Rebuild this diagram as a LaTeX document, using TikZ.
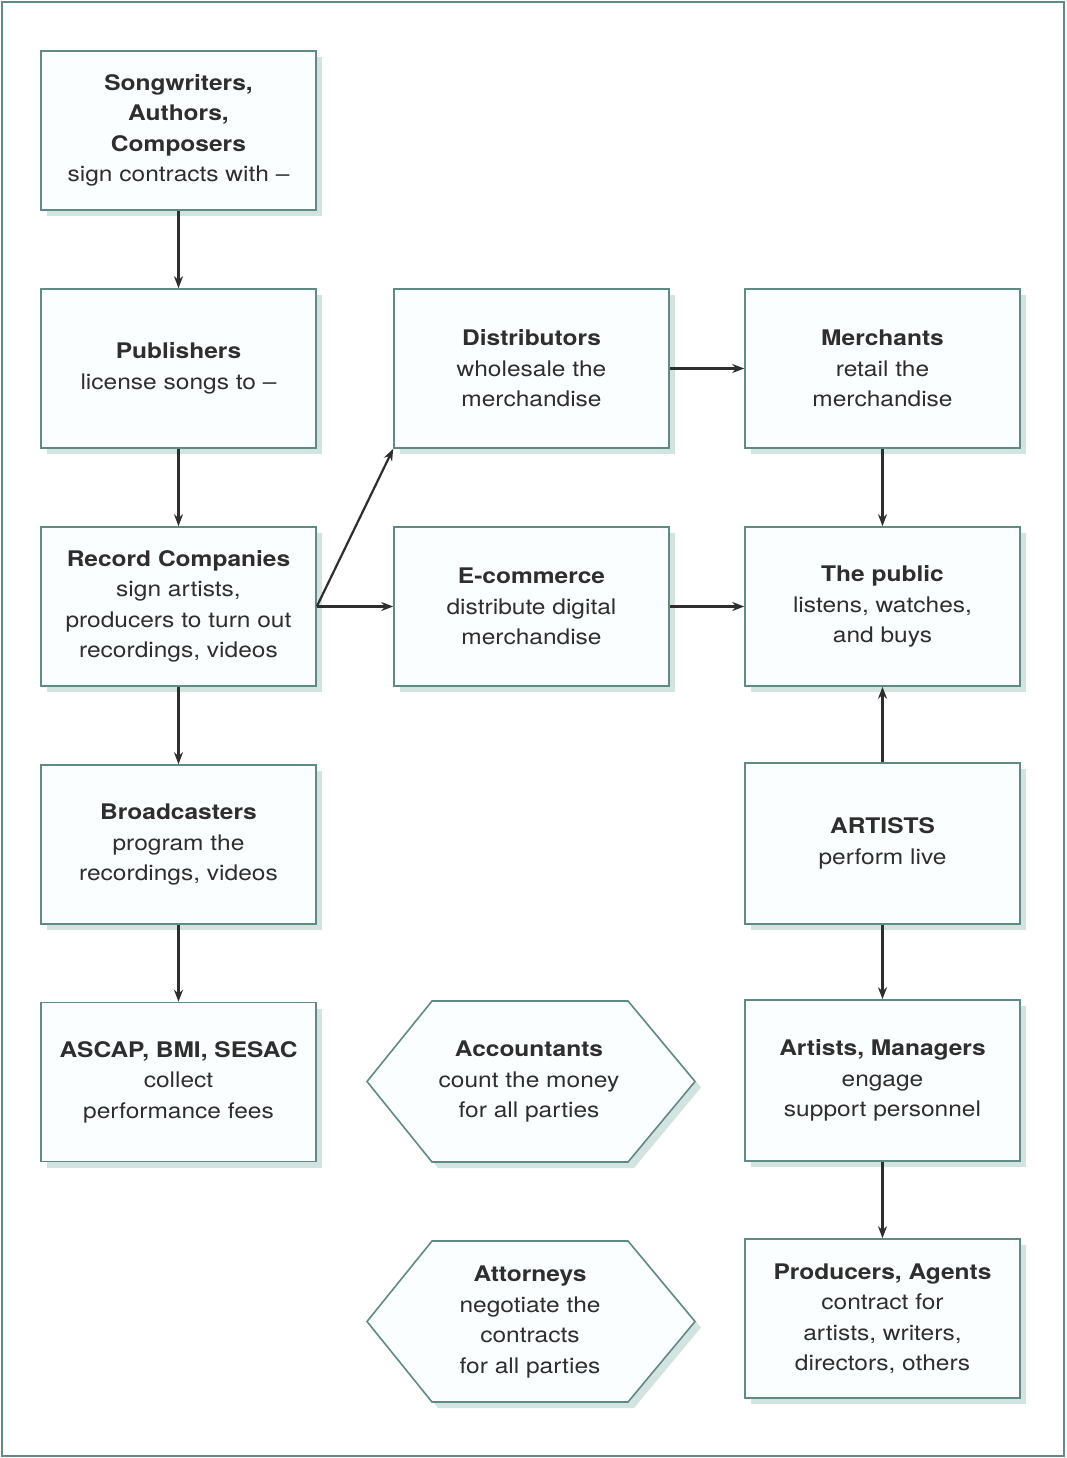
\documentclass[tikz,border=0pt]{standalone}
\usepackage{fontspec}
\setmainfont{TeX Gyre Heros}[FakeStretch=1.14]
\usetikzlibrary{arrows.meta,shadows}
\definecolor{edgecol}{HTML}{5F8A86}
\definecolor{fillcol}{HTML}{FBFEFE}
\definecolor{shadcol}{HTML}{D3E3E0}
\definecolor{txtcol}{HTML}{2E2E2E}
\begin{document}
\begin{tikzpicture}[x=1pt,y=-1pt,
  font=\fontsize{21.5}{30.5}\selectfont,
  shad/.style={drop shadow={shadow xshift=6pt,shadow yshift=-6pt,fill=shadcol,opacity=1}},
  box/.style={draw=edgecol,line width=1.6pt,fill=fillcol,shad,minimum width=275pt,minimum height=159pt,
    align=center,text=txtcol,inner sep=0pt},
  hexa/.style={draw=edgecol,line width=1.6pt,fill=fillcol,shad},
  lbl/.style={align=center,text=txtcol,inner sep=0pt},
  arr/.style={draw=txtcol,line width=2.2pt,-{Stealth[length=12pt,width=9pt]}}]
\useasboundingbox (0,0) rectangle (1066,1458);
\fill[white] (0,0) rectangle (1066,1458);
\draw[edgecol,line width=2pt] (2,2) rectangle (1064,1456);

\node[box] (song) at (178.5,130.5) {\textbf{Songwriters,}\\\textbf{Authors,}\\\textbf{Composers}\\sign contracts with --};
\node[box] (pub) at (178.5,368.5) {\textbf{Publishers}\\license songs to --};
\node[box] (rec) at (178.5,606.5) {\textbf{Record Companies}\\sign artists,\\producers to turn out\\recordings, videos};
\node[box] (brd) at (178.5,844.5) {\textbf{Broadcasters}\\program the\\recordings, videos};
\node[box] (ascap) at (178.5,1082) {\textbf{ASCAP, BMI, SESAC}\\collect\\performance fees};

\node[box] (dist) at (531.5,368.5) {\textbf{Distributors}\\wholesale the\\merchandise};
\node[box] (ecom) at (531.5,606.5) {\textbf{E-commerce}\\distribute digital\\merchandise};

\node[box] (merch) at (882.5,368.5) {\textbf{Merchants}\\retail the\\merchandise};
\node[box] (pubc) at (882.5,606.5) {\textbf{The public}\\listens, watches,\\and buys};
\node[box,minimum height=161pt] (art) at (882.5,843.5) {\textbf{ARTISTS}\\perform live};
\node[box,minimum height=161pt] (mgr) at (882.5,1080.5) {\textbf{Artists, Managers}\\engage\\support personnel};
\node[box] (prod) at (882.5,1318.5) {\textbf{Producers, Agents}\\contract for\\artists, writers,\\directors, others};

\path[hexa] (367,1081.5) -- (432,1001) -- (628,1001) -- (695,1081.5) -- (628,1162) -- (432,1162) -- cycle;
\node[lbl] (acc) at (529,1081.5) {\textbf{Accountants}\\count the money\\for all parties};
\path[hexa] (367,1321.5) -- (432,1241) -- (628,1241) -- (695,1321.5) -- (628,1402) -- (432,1402) -- cycle;
\node[lbl] (att) at (530,1322) {\textbf{Attorneys}\\negotiate the\\contracts\\for all parties};

\draw[arr] (song) -- (pub);
\draw[arr] (pub) -- (rec);
\draw[arr] (rec) -- (brd);
\draw[arr] (brd) -- (ascap);
\draw[arr] (rec.east) -- (dist.south west);
\draw[arr] (rec.east) -- (ecom.west);
\draw[arr] (dist) -- (merch);
\draw[arr] (ecom) -- (pubc);
\draw[arr] (merch) -- (pubc);
\draw[arr] (art) -- (pubc);
\draw[arr] (art) -- (mgr);
\draw[arr] (mgr) -- (prod);
\end{tikzpicture}
\end{document}
